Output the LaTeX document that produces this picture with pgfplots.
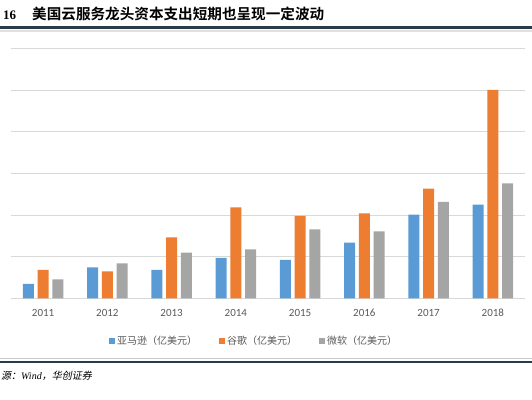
\documentclass[border=0pt]{standalone}
\usepackage{pgfplots}
\pgfplotsset{compat=1.18}
\usepackage{fontspec}
\setmainfont{Carlito}
\newfontfamily\cjk{Noto Sans CJK SC}
\newfontfamily\cjkb{Noto Sans CJK SC Bold}
\newfontfamily\cjkit[FakeSlant=0.2]{Noto Sans CJK SC}
\newfontfamily\serifb{Liberation Serif}
\definecolor{cblue}{HTML}{5B9BD5}
\definecolor{corange}{HTML}{ED7D31}
\definecolor{cgray}{HTML}{A5A5A5}
\definecolor{ctext}{HTML}{595959}
\definecolor{cgrid}{HTML}{D9D9D9}
\definecolor{crule}{RGB}{43,59,72}
\pgfplotstableread{
x amazon google microsoft
0 17.2 34.0 22.8
1 37.2 32.4 42.0
2 34.0 73.2 54.7
3 48.4 109.2 58.8
4 46.0 98.8 82.8
5 66.7 102.0 80.4
6 100.3 131.5 115.6
7 112.3 250.0 138.0
}\capex
\begin{document}
\begin{tikzpicture}
\useasboundingbox (0pt,0pt) rectangle (532pt,399pt);
% title
\node[anchor=base west, inner sep=0pt] at (3pt,379pt) {\serifb\bfseries\fontsize{13pt}{15pt}\selectfont 16};
\node[anchor=base west, inner sep=0pt] at (32pt,379pt) {\cjkb\fontsize{14.6pt}{16pt}\selectfont 美国云服务龙头资本支出短期也呈现一定波动};
\draw[crule, line width=3pt] (0pt,371.3pt) -- (532pt,371.3pt);
\draw[black!12, line width=1.5pt] (0pt,368pt) -- (532pt,368pt);
% bottom rules
\draw[black!20, line width=1pt] (0pt,40.5pt) -- (532pt,40.5pt);
\draw[crule, line width=2pt] (0pt,37.5pt) -- (532pt,37.5pt);
\node[anchor=base west, inner sep=0pt] at (1pt,20pt) {\cjkit\fontsize{10pt}{12pt}\selectfont 源：\serifb\itshape Wind\cjkit ，华创证券};
\begin{axis}[
  at={(11pt,100.7pt)}, anchor=south west,
  scale only axis, width=514pt, height=250pt,
  xmin=-0.5, xmax=7.5, ymin=0, ymax=300,
  axis x line*=bottom, axis y line*=left,
  x axis line style={cgrid, line width=0.8pt, -},
  y axis line style={draw=none},
  ymajorgrids, ytick={0,50,...,300}, yticklabels={},
  grid style={cgrid, line width=0.8pt},
  xtick={0,...,7}, xticklabels={2011,2012,2013,2014,2015,2016,2017,2018},
  major tick length=0pt,
  xticklabel style={font=\fontsize{11pt}{13pt}\selectfont, text=ctext, anchor=base, yshift=-18pt},
  /pgf/number format/assume math mode=true,
  ybar, bar width=11pt,
  legend style={at={(243pt,-43pt)}, anchor=center, draw=none, fill=none,
    legend columns=3, font=\cjk\fontsize{10pt}{12pt}\selectfont, text=ctext,
    /tikz/every even column/.append style={column sep=20pt}},
  legend image code/.code={\fill[#1] (0pt,-3pt) rectangle (6pt,3pt);},
]
\addplot[draw=none, fill=cblue, bar shift=-14.7pt] table[x=x, y=amazon] {\capex};
\addplot[draw=none, fill=corange, bar shift=0pt] table[x=x, y=google] {\capex};
\addplot[draw=none, fill=cgray, bar shift=14.7pt] table[x=x, y=microsoft] {\capex};
\legend{亚马逊（亿美元）,谷歌（亿美元）,微软（亿美元）}
\end{axis}
\end{tikzpicture}
\end{document}
